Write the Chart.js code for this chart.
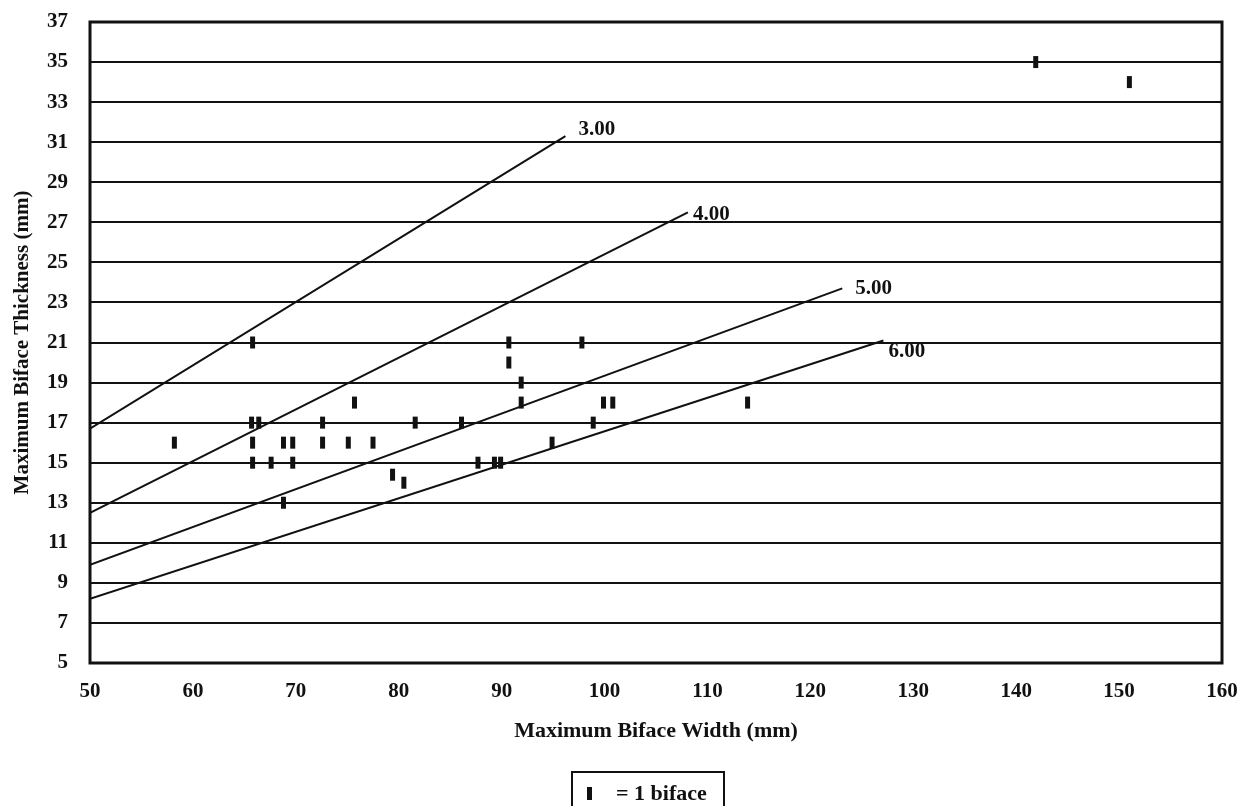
<!DOCTYPE html>
<html>
<head>
<meta charset="utf-8">
<script src="https://cdn.jsdelivr.net/npm/chart.js@4.4.1/dist/chart.umd.min.js"></script>
<style>
  html, body { margin: 0; padding: 0; background: #fff; }
  #wrap { width: 1240px; height: 806px; position: relative; }
</style>
</head>
<body>
<div id="wrap"><canvas id="bifaceChart"></canvas></div>
<script>
// one entry per biface
const widths = [58.2, 65.8, 65.7, 66.4, 65.8, 65.8, 67.6, 68.8, 69.7, 69.7, 68.8, 72.6, 72.6, 75.1, 75.7, 77.5, 79.4, 80.5,
  81.6, 86.1, 87.7, 89.3, 89.9, 90.7, 90.7, 91.9, 91.9, 94.9, 97.8, 98.9, 99.9, 100.8, 113.9, 141.9, 151.0];
const thicknesses = [16, 21, 17, 17, 16, 15, 15, 16, 16, 15, 13, 17, 16, 16, 18, 16, 14.4, 14.0,
  17, 17, 15, 15, 15, 21, 20, 19, 18, 16, 21, 17, 18, 18, 18, 35, 34];

// width/thickness reference lines
const ratioLabels = ["3.00", "4.00", "5.00", "6.00"];
const ratioStartX = [50, 50, 50, 50];
const ratioStartY = [16.7, 12.5, 9.9, 8.2];
const ratioEndX = [96.2, 108.1, 123.1, 127.1];
const ratioEndY = [31.3, 27.5, 23.7, 21.1];

const xTicks = [50, 60, 70, 80, 90, 100, 110, 120, 130, 140, 150, 160];
const yTicks = [5, 7, 9, 11, 13, 15, 17, 19, 21, 23, 25, 27, 29, 31, 33, 35, 37];

const serif = "'Liberation Serif', 'Times New Roman', serif";

// label offsets (px) from each line's end point
const labelOffsets = [[13, -7], [5, 2], [13, 0], [5, 11]];

const ratioLabelPlugin = {
  id: "ratioLabels",
  afterDatasetsDraw(chart) {
    const ctx = chart.ctx;
    const xs = chart.scales.x, ys = chart.scales.y;
    ctx.save();
    ctx.fillStyle = "#111";
    ctx.font = "bold 21px " + serif;
    ctx.textAlign = "left";
    ctx.textBaseline = "middle";
    ratioLabels.forEach((lab, i) => {
      const px = xs.getPixelForValue(ratioEndX[i]) + labelOffsets[i][0];
      const py = ys.getPixelForValue(ratioEndY[i]) + labelOffsets[i][1];
      ctx.fillText(lab, px, py);
    });
    ctx.restore();
  }
};

const framePlugin = {
  id: "frame",
  afterDraw(chart) {
    const { left, top, right, bottom } = chart.chartArea;
    const ctx = chart.ctx;
    ctx.save();
    ctx.strokeStyle = "#111";
    ctx.fillStyle = "#111";
    ctx.lineWidth = 3;
    ctx.strokeRect(left, top, right - left, bottom - top);

    // key box under the chart
    ctx.lineWidth = 2;
    ctx.strokeRect(572, 772, 152, 40);
    ctx.fillRect(587, 787, 5, 13);
    ctx.font = "bold 22px " + serif;
    ctx.textBaseline = "alphabetic";
    ctx.fillText("= 1 biface", 616, 800);
    ctx.restore();
  }
};

const lineSets = ratioLabels.map((lab, i) => ({
  type: "line",
  label: lab,
  data: [{ x: ratioStartX[i], y: ratioStartY[i] }, { x: ratioEndX[i], y: ratioEndY[i] }],
  borderColor: "#111",
  borderWidth: 2,
  pointRadius: 0,
  fill: false
}));

new Chart(document.getElementById("bifaceChart"), {
  type: "scatter",
  data: {
    datasets: [
      {
        label: "= 1 biface",
        data: widths.map((w, i) => ({ x: w, y: thicknesses[i] })),
        pointStyle: "line",
        rotation: 90,
        radius: 6,
        borderWidth: 5,
        borderColor: "#111",
        backgroundColor: "#111"
      },
      ...lineSets
    ]
  },
  options: {
    responsive: true,
    maintainAspectRatio: false,
    animation: false,
    layout: { padding: { top: 22, right: 18, bottom: 53, left: 0 } },
    plugins: { legend: { display: false }, tooltip: { enabled: false } },
    scales: {
      x: {
        type: "linear",
        min: 50,
        max: 160,
        afterBuildTicks: (s) => { s.ticks = xTicks.map((v) => ({ value: v })); },
        afterFit: (s) => { s.height = 90; s.paddingLeft = 0; s.paddingRight = 0; },
        grid: { display: false, drawTicks: false },
        border: { display: false },
        ticks: { color: "#111", padding: 16, font: { family: serif, size: 21, weight: "bold" } },
        title: {
          display: true,
          text: "Maximum Biface Width (mm)",
          color: "#111",
          padding: { top: 0, bottom: 8 },
          font: { family: serif, size: 22, weight: "bold" }
        }
      },
      y: {
        type: "linear",
        min: 5,
        max: 37,
        afterBuildTicks: (s) => { s.ticks = yTicks.map((v) => ({ value: v })); },
        afterFit: (s) => { s.width = 90; s.paddingTop = 0; s.paddingBottom = 0; },
        grid: { color: "#111", lineWidth: 2, drawTicks: false },
        border: { display: false },
        ticks: { color: "#111", padding: 22, font: { family: serif, size: 21, weight: "bold" } },
        title: {
          display: true,
          text: "Maximum Biface Thickness (mm)",
          color: "#111",
          padding: { top: 10, bottom: 0 },
          font: { family: serif, size: 21, weight: "bold" }
        }
      }
    }
  },
  plugins: [ratioLabelPlugin, framePlugin]
});
</script>
</body>
</html>
